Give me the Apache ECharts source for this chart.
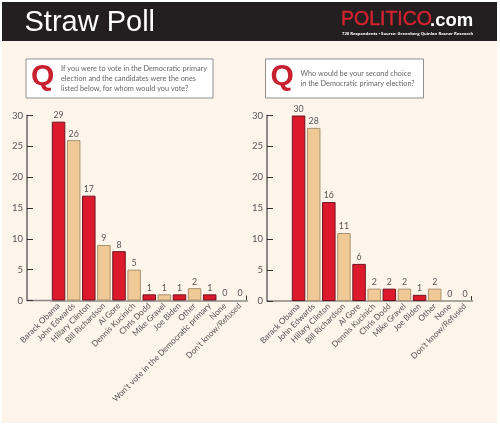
<!DOCTYPE html>
<html>
<head>
<meta charset="utf-8">
<script src="https://cdn.jsdelivr.net/npm/echarts@6/dist/echarts.min.js"></script>
<style>
html,body{margin:0;padding:0;background:#fff}
#chart{width:500px;height:425px}
</style>
</head>
<body>
<div id="chart"></div>
<script>
// First-choice question
const firstCandidates = ['Barack Obama','John Edwards','Hillary Clinton','Bill Richardson','Al Gore','Dennis Kucinich','Chris Dodd','Mike Gravel','Joe Biden','Other',"Won't vote in the Democratic primary",'None',"Don't know/Refused"];
const firstValues = [29,26,17,9,8,5,1,1,1,2,1,0,0];
// Second-choice question
const secondCandidates = ['Barack Obama','John Edwards','Hillary Clinton','Bill Richardson','Al Gore','Dennis Kucinich','Chris Dodd','Mike Gravel','Joe Biden','Other','None',"Don't know/Refused"];
const secondValues = [30,28,16,11,6,2,2,2,1,2,0,0];
const firstQuestion = ['If you were to vote in the Democratic primary','election and the candidates were the ones','listed below, for whom would you vote?'];
const secondQuestion = ['Who would be your second choice','in the Democratic primary election?'];

const FONT = 'Lato, sans-serif';
const RED = '#dc1a2c', RED_EDGE = '#6e1420', TAN = '#f0ca96', TAN_EDGE = '#a8936f';
const INK = '#555';

const plots = [
  {left: 51, right: 500 - 247.5, top: 115.5, bottom: 425 - 300.5, axisX: 27, cats: firstCandidates, vals: firstValues},
  {left: 291, right: 500 - 472.5, top: 115.5, bottom: 425 - 301, axisX: 267, cats: secondCandidates, vals: secondValues}
];

const grid = plots.map(p => ({left: p.left, right: p.right, top: p.top, bottom: p.bottom, containLabel: false, outerBoundsMode: 'none'}));

const xAxis = plots.map((p, i) => ({
  type: 'category', gridIndex: i, data: p.cats,
  axisLine: {lineStyle: {color: '#8a8a84', width: 1.5}},
  axisTick: {show: false},
  axisLabel: {rotate: 45, interval: 0, margin: 4, hideOverlap: false, fontFamily: FONT, fontSize: 8.2, color: INK}
}));

const yAxis = plots.map((p, i) => ({
  type: 'value', gridIndex: i, min: 0, max: 30, interval: 5,
  offset: p.left - p.axisX,
  splitLine: {show: false},
  axisLine: {show: true, lineStyle: {color: '#666', width: 1.5}},
  axisTick: {show: true, inside: true, length: 6, lineStyle: {color: '#333', width: 1}},
  axisLabel: {margin: 4, fontFamily: FONT, fontSize: 9.5, color: INK}
}));

const series = plots.map((p, i) => ({
  type: 'bar', xAxisIndex: i, yAxisIndex: i, barWidth: 13.5,
  data: p.vals.map((v, j) => ({
    value: v,
    itemStyle: j % 2 === 0 && v > 0
      ? {color: RED, borderColor: RED_EDGE, borderWidth: 1}
      : {color: TAN, borderColor: v > 0 ? TAN_EDGE : '#a8a8a0', borderWidth: 1}
  })),
  label: {show: true, position: 'top', distance: 2, fontFamily: FONT, fontSize: 8.8, color: INK},
  animation: false
}));

const questionBox = (x, w, lines) => [
  {type: 'rect', shape: {x: x, y: 59, width: w, height: 39},
   style: {fill: '#fff', stroke: '#8f8f8f', lineWidth: 1}},
  {type: 'text', x: x + 5, y: 62, style: {text: 'Q', fill: '#c8202f', font: 'bold 30px "Liberation Sans", sans-serif'}},
  {type: 'text', x: x + 35, y: lines.length === 2 ? 69 : 64, scaleX: 0.89,
   style: {text: lines.join('\n'), fill: '#666', font: '8.2px ' + FONT, lineHeight: 9.6}}
];

const graphic = [
  // page panel and masthead sit behind the plots
  {type: 'rect', z: -10, shape: {x: 2, y: 2, width: 495, height: 421}, style: {fill: '#fdf4ea'}},
  {type: 'rect', z: -9, shape: {x: 2, y: 2, width: 495, height: 39}, style: {fill: '#231f20'}},
  {type: 'text', x: 24.5, y: 8, style: {text: 'Straw Poll', fill: '#fff', font: '29px "Liberation Sans", sans-serif'}},
  {type: 'text', x: 341, y: 10, style: {text: 'POLITICO', fill: '#d2232e', stroke: '#d2232e', lineWidth: 0.4, font: '19.5px "Liberation Sans", sans-serif'}},
  {type: 'text', x: 430, y: 11, style: {text: '.com', fill: '#fff', font: 'bold 18.5px "Liberation Sans", sans-serif'}},
  {type: 'text', x: 342, y: 31.5, style: {text: '720 Respondents • Source: Greenberg Quinlan Rosner Research', fill: '#fff', font: 'bold 4.2px "Open Sans", sans-serif'}},
  ...questionBox(26, 187, firstQuestion),
  ...questionBox(265.5, 158, secondQuestion),
  // baseline runs back to the value axis; closing tick at its far end
  ...plots.map(p => ({type: 'line', shape: {x1: p.axisX, y1: 425 - p.bottom, x2: p.left, y2: 425 - p.bottom}, style: {stroke: '#8a8a84', lineWidth: 1.5}})),
  ...plots.map(p => ({type: 'line', shape: {x1: 500 - p.right - 1, y1: 425 - p.bottom, x2: 500 - p.right - 1, y2: 425 - p.bottom - 5}, style: {stroke: '#333', lineWidth: 1}}))
];

const chart = echarts.init(document.getElementById('chart'), null, {renderer: 'canvas'});
chart.setOption({animation: false, backgroundColor: '#fff', grid, xAxis, yAxis, series, graphic});
</script>
</body>
</html>
